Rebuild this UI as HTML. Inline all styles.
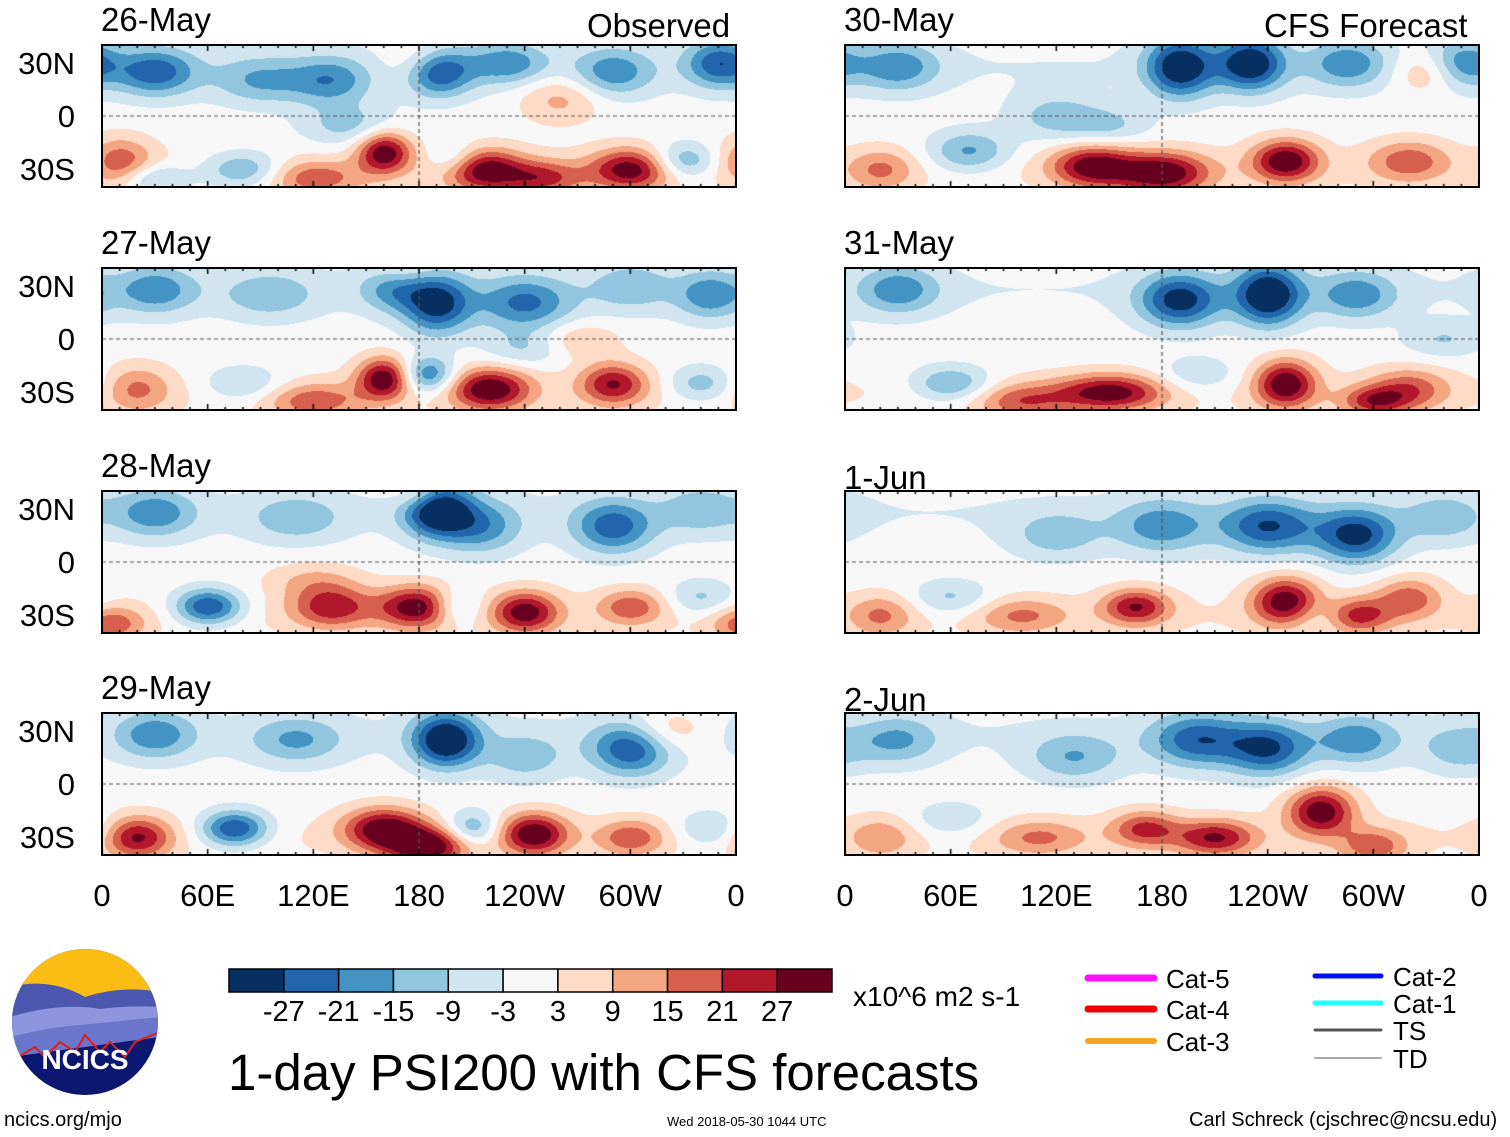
<!DOCTYPE html>
<html><head><meta charset="utf-8"><style>
body{margin:0;width:1510px;height:1137px;background:#fff;position:relative;overflow:hidden;font-family:"Liberation Sans",sans-serif;color:#000}
.t{position:absolute;white-space:nowrap;line-height:1}
canvas{position:absolute}
.frame{position:absolute;border:2px solid #000;box-sizing:border-box}
</style></head><body>
<div id="root"></div>
<div class="t" style="left:228px;top:1047px;font-size:51px">1-day PSI200 with CFS forecasts</div>
<div class="t" style="left:587px;top:9px;font-size:33px">Observed</div>
<div class="t" style="left:1264px;top:9px;font-size:33px">CFS Forecast</div>
<div class="t" style="left:853px;top:983px;font-size:28px">x10^6 m2 s-1</div>
<div class="t" style="left:4px;top:1110px;font-size:20px">ncics.org/mjo</div>
<div class="t" style="left:667px;top:1115px;font-size:13px">Wed 2018-05-30 1044 UTC</div>
<div class="t" style="left:1189px;top:1110px;font-size:20px">Carl Schreck (cjschrec@ncsu.edu)</div>
<svg style="position:absolute;left:10px;top:947px" width="150" height="150">
<defs><clipPath id="c"><circle cx="75" cy="75" r="73"/></clipPath></defs>
<g clip-path="url(#c)">
<rect width="150" height="150" fill="#0b1770"/>
<rect width="150" height="55" fill="#fbbd14"/>
<path d="M0 40 Q40 30 75 50 Q110 38 150 45 L150 75 L0 85Z" fill="#4c58b0"/>
<path d="M0 70 Q50 55 90 62 Q120 58 150 60 L150 85 L0 95Z" fill="#8d96dc"/>
<path d="M0 90 Q40 80 70 78 L150 70 L150 90 L0 110Z" fill="#6a76cc"/>
<path d="M0 115 L25 100 L35 110 L50 95 L65 105 L75 88 L90 105 L100 95 L115 110 L125 95 L150 85" stroke="#e02020" stroke-width="2" fill="none"/>
</g>
<text x="75" y="122" font-size="28" font-weight="bold" fill="#fff" text-anchor="middle" font-family="Liberation Sans">NCICS</text>
</svg>
<svg id="legend" style="position:absolute;left:1080px;top:960px" width="430" height="110"></svg>
<svg id="cbar" style="position:absolute;left:220px;top:960px" width="630" height="70"></svg>
<script>
const colors=["#053061","#2166ac","#4393c3","#92c5de","#d1e5f0","#f7f7f7","#fddbc7","#f4a582","#d6604d","#b2182b","#67001f"];
const levels=[-27,-21,-15,-9,-3,3,9,15,21,27];
const dates=["26-May","27-May","28-May","29-May","30-May","31-May","1-Jun","2-Jun"];
const xTicks=["0","60E","120E","180","120W","60W","0"];
const yTicks=["30N","0","30S"];
// blobs per panel: [lon(0-360), lat, amplitude, sigmaLon, sigmaLat]
const p0=[[30,25,-20,12,8],[90,20,-12,14,8],[130,20,-15,12,8],[190,25,-25,10,8],[230,30,-15,12,7],[290,25,-15,12,8],[350,30,-20,10,8],[140,-5,-10,14,7],[80,-30,-15,12,6],[30,-35,-12,10,5],[330,-25,-15,10,6],[200,-25,-12,8,6],[10,-25,15,10,8],[160,-20,27,8,7],[215,-30,27,12,7],[300,-30,25,12,7],[250,-35,18,12,6],[120,-35,15,14,6],[260,10,10,12,8],[180,30,10,10,8]];
const p1=[[30,28,-15,12,8],[95,25,-10,14,8],[165,30,-15,10,8],[190,20,-25,10,10],[240,20,-18,14,9],[300,30,-10,12,8],[345,25,-15,10,8],[80,-25,-10,12,6],[185,-20,-20,8,6],[340,-25,-12,10,6],[240,-5,-8,12,6],[20,-28,12,10,8],[160,-22,27,8,7],[220,-28,27,12,7],[290,-25,22,10,7],[120,-35,15,14,6],[270,0,8,12,6],[170,38,8,10,6]];
const p2=[[30,28,-15,12,8],[110,25,-10,14,8],[190,30,-30,10,9],[215,20,-15,12,9],[290,20,-20,12,9],[340,30,-10,12,8],[60,-25,-25,10,6],[200,-25,-15,8,6],[340,-20,-10,10,6],[180,-25,27,12,7],[130,-25,20,12,7],[240,-28,25,10,7],[300,-25,15,10,6],[5,-35,15,10,6],[180,38,10,8,5],[120,-10,8,14,6]];
const p3=[[30,28,-15,12,8],[110,25,-12,14,8],[195,25,-30,10,9],[300,20,-22,12,9],[240,15,-10,12,8],[75,-25,-25,10,6],[210,-25,-15,8,6],[345,-25,-10,10,6],[20,-30,22,10,7],[160,-25,27,12,7],[185,-35,27,12,6],[245,-28,27,10,7],[300,-30,15,10,6],[320,30,10,12,7]];
const p4=[[30,28,-15,12,8],[190,28,-28,10,10],[230,30,-28,10,9],[285,30,-15,12,8],[350,30,-15,10,8],[120,0,-10,14,8],[70,-20,-15,12,7],[150,-5,-8,12,6],[140,-28,25,12,7],[180,-32,27,14,7],[250,-25,27,10,7],[320,-25,15,12,7],[20,-30,12,10,7],[330,25,10,10,7]];
const p5=[[30,28,-15,12,8],[190,22,-25,12,9],[240,25,-30,10,10],[290,25,-15,12,8],[60,-25,-15,12,6],[200,-20,-8,12,6],[340,0,-8,12,6],[150,-30,25,16,6],[250,-25,27,9,8],[100,-35,15,14,6],[320,-28,15,12,7],[300,-35,18,10,5]];
const p6=[[240,20,-22,14,9],[290,15,-25,12,9],[180,20,-15,14,9],[120,15,-10,14,8],[340,25,-10,12,8],[60,-20,-10,12,6],[270,-30,-8,10,6],[250,-22,27,10,8],[165,-25,22,10,6],[290,-30,20,10,6],[320,-20,15,10,7],[100,-30,12,14,6],[20,-30,12,10,7]];
const p7=[[200,25,-20,14,9],[240,20,-22,12,9],[290,25,-15,12,8],[130,15,-12,14,8],[30,25,-12,12,8],[350,20,-10,12,8],[60,-20,-8,12,6],[270,-15,27,10,8],[210,-30,22,12,6],[170,-25,18,10,6],[110,-30,12,14,6],[300,-35,15,10,6],[20,-30,10,10,7]];
const panelBlobs=[p0,p1,p2,p3,p4,p5,p6,p7];
// broad background bands: [lat, amplitude, sigmaLat]
const bgBands=[[28,-3,12],[-30,3,10]];

const AMP=1.15,SXF=1.35,SYF=1.2;
const W=634,H=142,colX=[102,845],rowY=[45,268,491,713];
const root=document.body;
function xScale(lon){return lon/360*W;}
function yScale(lat){return (40-lat)/80*H;}
function hexRgb(h){return [parseInt(h.substr(1,2),16),parseInt(h.substr(3,2),16),parseInt(h.substr(5,2),16)];}
const rgbs=colors.map(hexRgb);
function colorIdx(v){let i=0;while(i<levels.length&&v>=levels[i])i++;return i;}

panelBlobs.forEach((blobs,k)=>{
  const col=k<4?0:1,row=k%4,L=colX[col],T=rowY[row];
  const cv=document.createElement('canvas');
  
  
  cv.width=W;cv.height=H;cv.style.left=L+'px';cv.style.top=T+'px';
  root.appendChild(cv);
  const ctx=cv.getContext('2d'),img=ctx.createImageData(W,H);
  for(let y=0;y<H;y++){const lat=40-y/H*80;
    let base=0;for(const b of bgBands){const c=(lat-b[0])/b[2];base+=b[1]*Math.exp(-c*c/2);}
    for(let x=0;x<W;x++){const lon=x/W*360;let v=base;
      for(const b of blobs){let d=Math.abs(lon-b[0]);if(d>180)d=360-d;
        const a=d/(b[3]*SXF),c=(lat-b[1])/(b[4]*SYF);v+=AMP*b[2]*Math.exp(-(a*a+c*c)/2);}
      const rgb=rgbs[colorIdx(v)],o=(y*W+x)*4;
      img.data[o]=rgb[0];img.data[o+1]=rgb[1];img.data[o+2]=rgb[2];img.data[o+3]=255;}}
  ctx.putImageData(img,0,0);
  ctx.strokeStyle='#555';ctx.setLineDash([4,3]);ctx.lineWidth=1.2;
  ctx.beginPath();ctx.moveTo(0,yScale(0));ctx.lineTo(W,yScale(0));ctx.moveTo(xScale(180),0);ctx.lineTo(xScale(180),H);ctx.stroke();
  ctx.setLineDash([]);ctx.strokeStyle='#000';ctx.lineWidth=1.5;
  for(let lon=0;lon<=360;lon+=10){const tx=xScale(lon),len=lon%60==0?6:3;ctx.beginPath();ctx.moveTo(tx,0);ctx.lineTo(tx,len);ctx.moveTo(tx,H);ctx.lineTo(tx,H-len);ctx.stroke();}
  const fr=document.createElement('div');fr.className='frame';
  
  
  fr.style.cssText+=`left:${L-1}px;top:${T-1}px;width:${W+2}px;height:${H+2}px`;
  root.appendChild(fr);
  const dl=document.createElement('div');dl.className='t';
  
  
  dl.textContent=dates[k];dl.style.cssText+=`left:${L-1}px;top:${T-42+(k>=6?12:0)}px;font-size:33px`;
  root.appendChild(dl);
  if(col==0){[30,0,-30].forEach((lat,i)=>{const e=document.createElement('div');e.className='t';
    
    
    e.textContent=yTicks[i];e.style.cssText+=`right:${1510-75}px;top:${T+yScale(lat)-15}px;font-size:31px;text-align:right`;root.appendChild(e);});}
  if(row==3){xTicks.forEach((s,i)=>{const e=document.createElement('div');e.className='t';
    
    
    e.textContent=s;e.style.cssText+=`left:${L+xScale(i*60)}px;top:880px;font-size:31px;transform:translateX(-50%)`;root.appendChild(e);});}
});

const NS='http://www.w3.org/2000/svg',cb=document.getElementById('cbar');
const bw=603/colors.length;
colors.forEach((c,i)=>{const r=document.createElementNS(NS,'rect');
  
  
  r.setAttribute('x',9+i*bw);r.setAttribute('y',9);r.setAttribute('width',bw);r.setAttribute('height',23);
  r.setAttribute('fill',c);r.setAttribute('stroke','#000');r.setAttribute('stroke-width','1.5');cb.appendChild(r);});
levels.forEach((l,i)=>{const t=document.createElementNS(NS,'text');
  
  
  t.setAttribute('x',9+(i+1)*bw);t.setAttribute('y',61);t.setAttribute('font-size','29');t.setAttribute('text-anchor','middle');
  t.setAttribute('font-family','Liberation Sans');t.textContent=l;cb.appendChild(t);});

const lg=document.getElementById('legend');
const items=[["Cat-5","#ff10ff",7,8,18],["Cat-4","#f00000",7,8,49],["Cat-3","#f5a623",6,8,81],["Cat-2","#0010ee",5,235,16],["Cat-1","#20ffff",5,235,43],["TS","#555",3,235,70],["TD","#aaa",2,235,98]];
items.forEach(it=>{const ln=document.createElementNS(NS,'line');
  
  
  ln.setAttribute('x1',it[3]);ln.setAttribute('x2',it[3]+66);ln.setAttribute('y1',it[4]);ln.setAttribute('y2',it[4]);
  ln.setAttribute('stroke',it[1]);ln.setAttribute('stroke-width',it[2]);ln.setAttribute('stroke-linecap','round');
  lg.appendChild(ln);
  const t=document.createElementNS(NS,'text');
  
  
  t.setAttribute('x',it[3]+78);t.setAttribute('y',it[4]+10);t.setAttribute('font-size','26');t.setAttribute('font-family','Liberation Sans');
  t.textContent=it[0];lg.appendChild(t);});
</script>
</body></html>
